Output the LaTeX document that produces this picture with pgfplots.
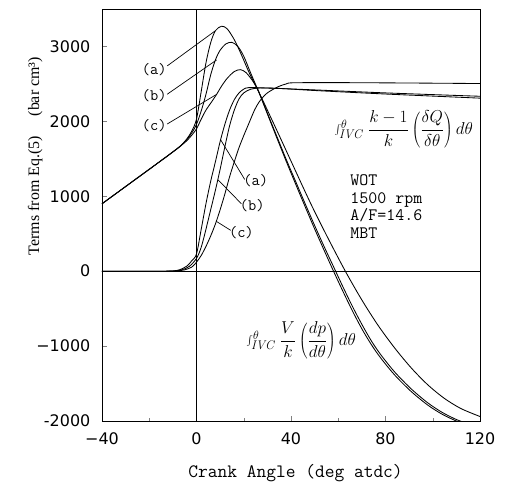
\documentclass[border=0pt]{standalone}
\usepackage{fontspec}
\usepackage{pgfplots}
\pgfplotsset{compat=1.18}
\newfontfamily\tickfont{DejaVu Sans}
\newfontfamily\lserif{Liberation Serif}

\begin{document}
\begin{tikzpicture}
\begin{axis}[
  scale only axis, width=378bp, height=412bp,
  xmin=-40, xmax=120, ymin=-2000, ymax=3500,
  xtick={-40,0,40,80,120}, xticklabels={−40,0,40,80,120},
  minor xtick={-20,20,60,100},
  ytick={-2000,-1000,0,1000,2000,3000},
  yticklabels={-2000,−1000,0,1000,2000,3000},
  tick pos=left, tick align=inside,
  major tick length=5pt, minor tick length=3pt,
  every axis/.append style={line width=0.8pt},
  ticklabel style={font=\tickfont\fontsize{16}{16}\selectfont},
  xticklabel style={yshift=-8pt},
  yticklabel style={xshift=-8pt},
  xlabel={Crank Angle (deg atdc)},
  xlabel style={font=\ttfamily\fontsize{19}{19}\selectfont, at={(axis description cs:0.512,-0.136)}, anchor=base},
  ylabel={Terms from Eq.(5)\quad\ (bar cm³)},
  ylabel style={font=\lserif\fontsize{16}{16}\selectfont, at={(axis description cs:-0.177,0.643)}, anchor=center},
  clip=true,
]
% zero lines
\draw[line width=0.7pt] (axis cs:-40,0) -- (axis cs:120,0);
\draw[line width=0.7pt] (axis cs:0,-2000) -- (axis cs:0,3500);

% pressure term (a)
\addplot[black, line width=0.85pt, smooth] coordinates {
(-40,900)(-30,1130)(-20,1360)(-12,1545)(-8,1640)(-6,1695)(-4,1770)(-2,1870)(0,2030)(2,2400)(4,2780)(6,3050)(8,3210)(10.6,3270)(13,3235)(16,3090)(19,2890)(22,2670)(24.5,2510)(26.4,2390)(30,2100)(34,1780)(38,1465)(42,1160)(46,860)(50,565)(54,280)(58,0)(62,-270)(66,-530)(70,-770)(74,-980)(78,-1160)(84,-1390)(91,-1610)(98,-1790)(104,-1910)(110,-2000)(116,-2070)};
% pressure term (b)
\addplot[black, line width=0.85pt, smooth] coordinates {
(-40,900)(-30,1130)(-20,1360)(-12,1545)(-8,1640)(-6,1695)(-4,1760)(-2,1845)(0,1960)(2,2140)(4,2360)(6,2620)(8,2820)(10,2950)(12.5,3035)(15,3055)(17.5,3000)(20,2870)(23,2640)(26.4,2390)(30,2110)(34,1800)(38,1490)(42,1195)(46,900)(50,610)(54,330)(58,60)(62,-210)(66,-470)(70,-710)(74,-930)(78,-1115)(84,-1350)(91,-1575)(98,-1760)(104,-1885)(110,-1980)(116,-2050)};
% pressure term (c)
\addplot[black, line width=0.85pt, smooth] coordinates {
(-40,900)(-30,1130)(-20,1360)(-12,1545)(-8,1640)(-6,1690)(-4,1745)(-2,1815)(0,1900)(2,2030)(4,2150)(6.5,2265)(8.5,2360)(10.6,2470)(13,2575)(16,2665)(18.6,2690)(21,2650)(24,2530)(26.4,2390)(30,2150)(34,1880)(40,1470)(46,1060)(50,795)(56,420)(63,0)(70,-385)(77,-730)(84,-1030)(91,-1295)(98,-1520)(105,-1700)(112,-1835)(120,-1940)};

% heat release term (a)
\addplot[black, line width=0.85pt, smooth] coordinates {
(-40,0)(-14,0)(-10,3)(-7,20)(-4,70)(-2,140)(0,230)(2,560)(4,900)(6,1200)(8,1460)(10,1730)(12,1960)(14,2150)(16,2290)(18,2380)(20,2430)(22,2450)(30,2445)(50,2420)(80,2380)(120,2335)};
% heat release term (b)
\addplot[black, line width=0.85pt, smooth] coordinates {
(-40,0)(-13,0)(-9,5)(-6,20)(-3,65)(0,170)(2,320)(4,560)(6,820)(8,1080)(10,1360)(12,1660)(14,1940)(16,2150)(18,2300)(20,2380)(23,2430)(27,2445)(35,2440)(50,2412)(80,2365)(120,2310)};
% heat release term (c)
\addplot[black, line width=0.85pt, smooth] coordinates {
(-40,0)(-12,0)(-8,5)(-5,18)(-2,55)(0,120)(2,210)(4,330)(6,470)(8,630)(10,820)(12,1030)(14,1260)(16,1460)(18,1650)(20,1810)(22,1960)(24.7,2160)(27,2280)(30,2380)(34.6,2463)(38,2500)(41,2515)(60,2517)(90,2512)(120,2505)};

% labels and leaders
\begin{scope}[font=\ttfamily\fontsize{16}{16}\selectfont]
\node at (axis cs:-17.9,2693) {(a)};
\node at (axis cs:-17.9,2337) {(b)};
\node at (axis cs:-17.9,1947) {(c)};
\node at (axis cs:25.1,1204) {(a)};
\node at (axis cs:23.6,871) {(b)};
\node at (axis cs:19,520) {(c)};
\end{scope}
\draw[line width=0.7pt] (axis cs:-12.4,2740) -- (axis cs:8,3210);
\draw[line width=0.7pt] (axis cs:-12.4,2362) -- (axis cs:8.5,2820);
\draw[line width=0.7pt] (axis cs:-12.4,1965) -- (axis cs:8.5,2360);
\draw[line width=0.7pt] (axis cs:20.4,1225) -- (axis cs:10.2,1755);
\draw[line width=0.7pt] (axis cs:19,900) -- (axis cs:9.1,1220);
\draw[line width=0.7pt] (axis cs:14.5,545) -- (axis cs:8.4,665);

% formulas
\node[font=\fontsize{18}{20}\selectfont] at (axis cs:87.7,1893)
  {$\textstyle\int_{\mathit{IVC}}^{\theta}\,\displaystyle\frac{k-1}{k}\left(\frac{\delta Q}{\delta\theta}\right)d\theta$};
\node[font=\fontsize{18}{20}\selectfont] at (axis cs:44.3,-927)
  {$\textstyle\int_{\mathit{IVC}}^{\theta}\,\displaystyle\frac{V}{k}\left(\frac{dp}{d\theta}\right)d\theta$};

% conditions
\begin{scope}[font=\ttfamily\fontsize{17.5}{18}\selectfont]
\node[anchor=base west, inner sep=0pt] at (axis cs:65,1150) {WOT};
\node[anchor=base west, inner sep=0pt] at (axis cs:65,905) {1500 rpm};
\node[anchor=base west, inner sep=0pt] at (axis cs:65,682) {A/F=14.6};
\node[anchor=base west, inner sep=0pt] at (axis cs:65,437) {MBT};
\end{scope}
\end{axis}
\pgfresetboundingbox
\path ([shift={(-102bp,-66bp)}]current axis.south west) rectangle ([shift={(31bp,9bp)}]current axis.north east);
\end{tikzpicture}
\end{document}
